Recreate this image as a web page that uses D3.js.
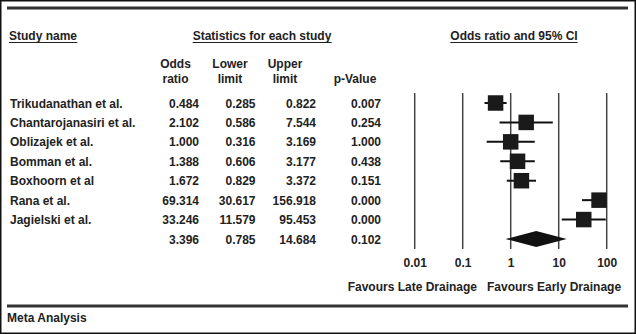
<!DOCTYPE html>
<html>
<head>
<meta charset="utf-8">
<script src="https://cdn.jsdelivr.net/npm/d3@7"></script>
<style>
  html, body { margin: 0; padding: 0; background: #fff; }
  svg { display: block; }
  text { font-family: "Liberation Sans", Arial, sans-serif; font-weight: bold; font-size: 12px; fill: #222; }
</style>
</head>
<body>
<svg id="chart" width="636" height="334"></svg>
<script>
// Forest plot: early vs late drainage, odds ratios with 95% CI
const studies = ["Trikudanathan et al.", "Chantarojanasiri et al.", "Oblizajek et al.",
                 "Bomman et al.", "Boxhoorn et al", "Rana et al.", "Jagielski et al."];
const oddsRatio  = [0.484, 2.102, 1.000, 1.388, 1.672, 69.314, 33.246];
const lowerLimit = [0.285, 0.586, 0.316, 0.606, 0.829, 30.617, 11.579];
const upperLimit = [0.822, 7.544, 3.169, 3.177, 3.372, 156.918, 95.453];
const pValue     = [0.007, 0.254, 1.000, 0.438, 0.151, 0.000, 0.000];

// Pooled estimate
const pooledOR = 3.396, pooledLower = 0.785, pooledUpper = 14.684, pooledP = 0.102;

const axisTicks = [0.01, 0.1, 1, 10, 100];

const svg = d3.select("#chart");
const W = 636, H = 334;
const fmt = d3.format(".3f");

// outer frame
svg.append("rect").attr("x", 0.75).attr("y", 0.75).attr("width", W - 1.5).attr("height", H - 1.5)
  .attr("fill", "none").attr("stroke", "#111").attr("stroke-width", 1.5);

// heavy rules at top and bottom of the table
[8, 306].forEach(y => {
  svg.append("line").attr("x1", 7).attr("x2", 628).attr("y1", y).attr("y2", y)
    .attr("stroke", "#333").attr("stroke-width", 3);
});

// row layout
const rows = studies.map((s, i) => i);
const y = d3.scalePoint().domain(d3.range(studies.length + 1)).range([103, 239]);

// log scale for odds ratios
const x = d3.scaleLog().domain([0.01, 100]).range([414.7, 606.7]).clamp(true);

// column headers
function underlined(txt, xPos, yPos, anchor) {
  const t = svg.append("text").attr("x", xPos).attr("y", yPos).attr("text-anchor", anchor).text(txt);
  const bb = t.node().getBBox();
  svg.append("line").attr("x1", bb.x).attr("x2", bb.x + bb.width)
    .attr("y1", yPos + 2.5).attr("y2", yPos + 2.5).attr("stroke", "#222").attr("stroke-width", 1);
}
underlined("Study name", 9, 40, "start");
underlined("Statistics for each study", 262, 40, "middle");
underlined("Odds ratio and 95% CI", 514, 40, "middle");

const colHeads = [
  { x: 175.5, l1: "Odds", l2: "ratio" },
  { x: 230, l1: "Lower", l2: "limit" },
  { x: 285, l1: "Upper", l2: "limit" },
  { x: 355, l1: "", l2: "p-Value" }
];
colHeads.forEach(c => {
  svg.append("text").attr("x", c.x).attr("y", 68).attr("text-anchor", "middle").text(c.l1);
  svg.append("text").attr("x", c.x).attr("y", 83).attr("text-anchor", "middle").text(c.l2);
});

// numeric columns (right aligned)
const colRight = { or: 199, lo: 255.5, hi: 316, p: 381 };
const tableRows = studies.map((s, i) => ({
  name: s, or: oddsRatio[i], lo: lowerLimit[i], hi: upperLimit[i], p: pValue[i], i
}));
tableRows.push({ name: "", or: pooledOR, lo: pooledLower, hi: pooledUpper, p: pooledP, i: studies.length });

const g = svg.append("g");
tableRows.forEach(r => {
  const yb = y(r.i) + 4.5;
  g.append("text").attr("x", 10).attr("y", yb).text(r.name);
  g.append("text").attr("x", colRight.or).attr("y", yb).attr("text-anchor", "end").text(fmt(r.or));
  g.append("text").attr("x", colRight.lo).attr("y", yb).attr("text-anchor", "end").text(fmt(r.lo));
  g.append("text").attr("x", colRight.hi).attr("y", yb).attr("text-anchor", "end").text(fmt(r.hi));
  g.append("text").attr("x", colRight.p).attr("y", yb).attr("text-anchor", "end").text(fmt(r.p));
});

// vertical reference lines at each decade
svg.append("g").selectAll("line").data(axisTicks).join("line")
  .attr("x1", d => x(d)).attr("x2", d => x(d))
  .attr("y1", 93).attr("y2", 249)
  .attr("stroke", "#444").attr("stroke-width", 1.5);

// tick labels via axis
const axis = d3.axisBottom(x).tickValues(axisTicks)
  .tickFormat(d => d >= 1 ? d3.format("d")(d) : String(d))
  .tickSize(0).tickPadding(0);
const axG = svg.append("g").attr("transform", "translate(0,258)").call(axis);
axG.select(".domain").remove();
axG.selectAll("text").attr("dy", "0.71em")
  .style("font-family", '"Liberation Sans", Arial, sans-serif')
  .style("font-weight", "bold").style("font-size", "12px").style("fill", "#222");

// study CIs and squares
const marks = svg.append("g");
marks.selectAll("line.ci").data(rows).join("line").attr("class", "ci")
  .attr("x1", i => x(lowerLimit[i])).attr("x2", i => x(upperLimit[i]))
  .attr("y1", i => y(i)).attr("y2", i => y(i))
  .attr("stroke", "#111").attr("stroke-width", 2);
const sq = 15.5;
marks.selectAll("rect.pt").data(rows).join("rect").attr("class", "pt")
  .attr("x", i => x(oddsRatio[i]) - sq / 2).attr("y", i => y(i) - sq / 2)
  .attr("width", sq).attr("height", sq).attr("fill", "#1a1a1a");

// pooled diamond
const yd = y(studies.length);
marks.append("path")
  .attr("d", `M${x(pooledLower)},${yd} L${x(pooledOR)},${yd - 8} L${x(pooledUpper)},${yd} L${x(pooledOR)},${yd + 8} Z`)
  .attr("fill", "#111");

// direction labels
svg.append("text").attr("x", 477).attr("y", 291).attr("text-anchor", "end").text("Favours Late Drainage");
svg.append("text").attr("x", 487).attr("y", 291).attr("text-anchor", "start").text("Favours Early Drainage");

// footer
svg.append("text").attr("x", 7).attr("y", 322).text("Meta Analysis");
</script>
</body>
</html>
